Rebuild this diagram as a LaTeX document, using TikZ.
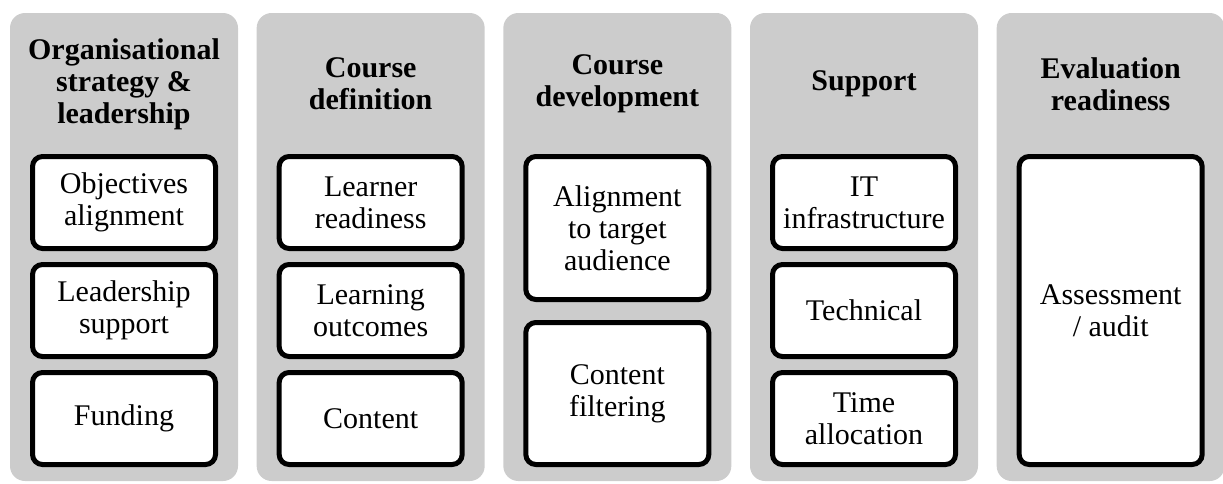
\documentclass[tikz,border=0pt]{standalone}
\usepackage{fontspec}
\setmainfont{Liberation Serif}
\definecolor{colgrey}{RGB}{204,204,204}
\begin{document}
\begin{tikzpicture}[x=1pt,y=-1pt,
  colbox/.style={fill=colgrey, draw=none, rounded corners=15pt, minimum width=228pt, minimum height=468pt, inner sep=0pt},
  item/.style={draw=black, line width=5pt, fill=white, rounded corners=10pt, minimum width=183pt, align=center, inner sep=0pt, font=\fontsize{30}{32}\selectfont},
  head/.style={align=center, inner sep=0pt, font=\fontsize{30}{32}\selectfont\bfseries}]
\useasboundingbox (0,0) rectangle (1223,483);
% columns
\node[colbox] (c1) at (124,247) {};
\node[colbox] (c2) at (370.67,247) {};
\node[colbox] (c3) at (617.33,247) {};
\node[colbox] (c4) at (864,247) {};
\node[colbox] (c5) at (1110.67,247) {};
% headers
\node[head] (h1) at (124,84) {Organisational\\strategy \&\\leadership};
\node[head] (h2) at (370.67,84) {Course\\definition};
\node[head] (h3) at (617.33,84) {Course\\development};
\node[head] (h4) at (864,84) {Support};
\node[head] (h5) at (1110.67,84) {Evaluation\\readiness};
% column 1
\node[item, minimum height=92pt] (a1) at (124,202.5) {Objectives\\alignment};
\node[item, minimum height=92pt] (a2) at (124,310.5) {Leadership\\support};
\node[item, minimum height=92pt] (a3) at (124,418.5) {Funding};
% column 2
\node[item, minimum height=92pt] (b1) at (370.67,202.5) {Learner\\readiness};
\node[item, minimum height=92pt] (b2) at (370.67,310.5) {Learning\\outcomes};
\node[item, minimum height=92pt] (b3) at (370.67,418.5) {Content};
% column 3
\node[item, minimum height=143pt] (d1) at (617.33,228) {Alignment\\to target\\audience};
\node[item, minimum height=142pt] (d2) at (617.33,393.5) {Content\\filtering};
% column 4
\node[item, minimum height=92pt] (e1) at (864,202.5) {IT\\infrastructure};
\node[item, minimum height=92pt] (e2) at (864,310.5) {Technical};
\node[item, minimum height=92pt] (e3) at (864,418.5) {Time\\allocation};
% column 5
\node[item, minimum height=308pt] (f1) at (1110.67,310.5) {Assessment\\/ audit};
\end{tikzpicture}
\end{document}
